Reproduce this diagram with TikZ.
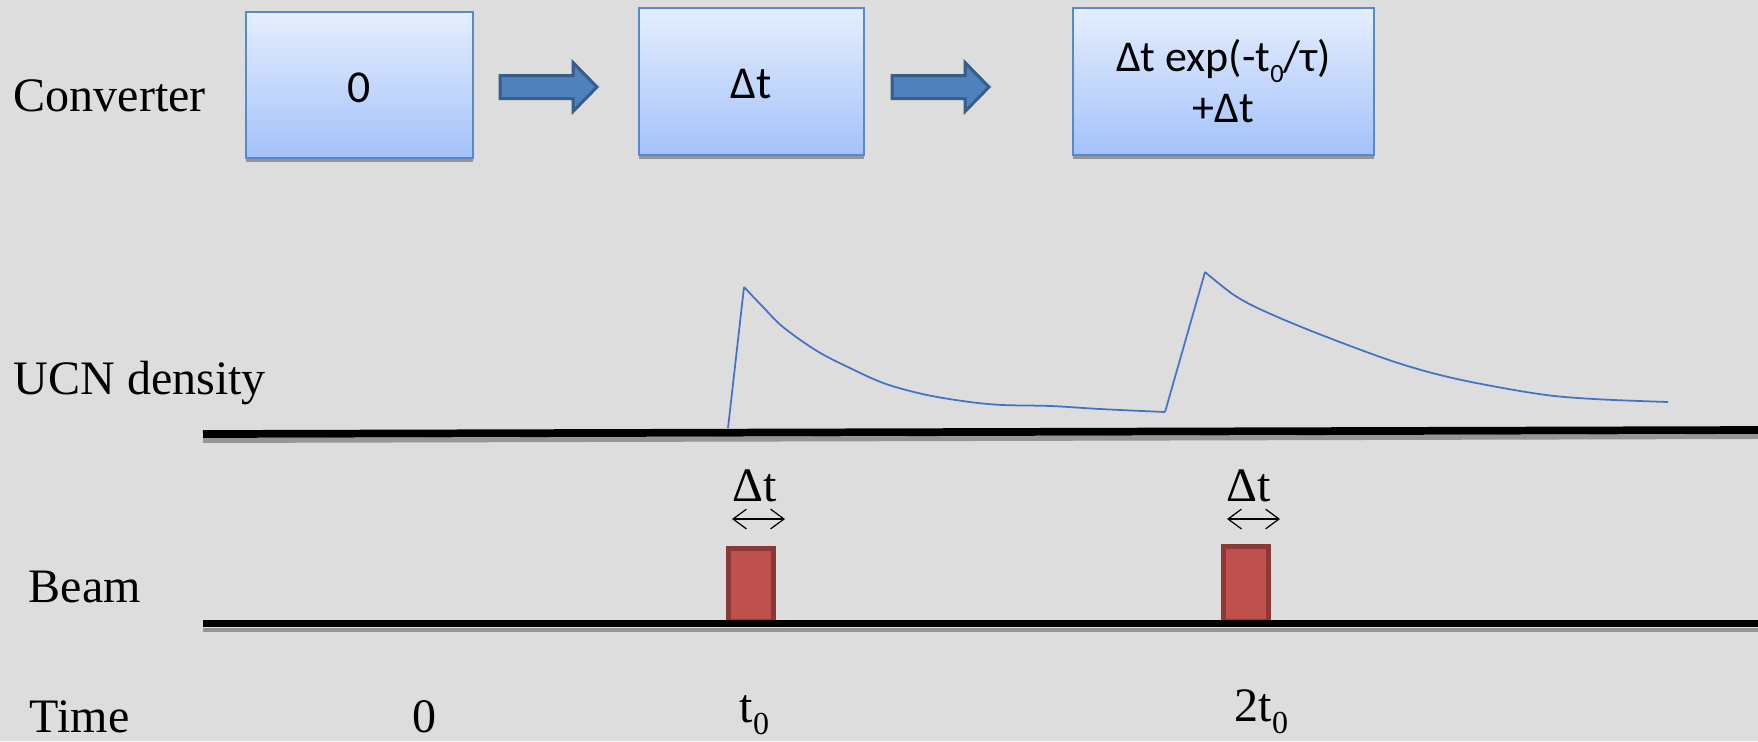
\documentclass[tikz,border=0pt]{standalone}
\usepackage{fontspec}
\setmainfont{Liberation Serif}
\newfontfamily\calfont{Carlito}
\usetikzlibrary{arrows.meta}
\definecolor{bg}{RGB}{221,221,221}
\definecolor{boxtop}{RGB}{229,238,253}
\definecolor{boxbot}{RGB}{163,194,250}
\definecolor{boxline}{RGB}{88,137,205}
\definecolor{arrfill}{RGB}{79,129,189}
\definecolor{arrline}{RGB}{56,93,138}
\definecolor{beamfill}{RGB}{192,80,77}
\definecolor{beamline}{RGB}{140,56,54}
\definecolor{curvecol}{RGB}{68,114,196}
\definecolor{shadowcol}{RGB}{150,150,150}
\begin{document}
\begin{tikzpicture}[x=0.01cm,y=-0.01cm,
  lbl/.style={font=\fontsize{13.66}{16}\selectfont, inner sep=0pt, anchor=base west},
  lblc/.style={font=\fontsize{13.66}{16}\selectfont, inner sep=0pt, anchor=base},
  boxtxt/.style={font=\calfont\fontsize{12.5}{14.5}\selectfont, inner sep=0pt, anchor=base},
  convbox/.style={draw=boxline, line width=0.45pt, top color=boxtop, bottom color=boxbot, inner sep=0pt},
  boxshadow/.style={fill=shadowcol},
  blockarrow/.style={fill=arrfill, draw=arrline, line width=0.85pt, line join=miter},
  axisline/.style={line width=2.2pt, black},
  axisshadow/.style={line width=1.4pt, shadowcol},
  beamrect/.style={fill=beamfill, draw=beamline, line width=1.4pt, inner sep=0pt},
  dblarrow/.style={line width=0.35pt, {Straight Barb[length=3.8pt,width=5.6pt]}-{Straight Barb[length=3.8pt,width=5.6pt]}},
  ucn/.style={curvecol, line width=0.5pt, line join=round}
]
\useasboundingbox (0,0) rectangle (1758,741);
\fill[bg] (0,0) rectangle (1758,741);

% ---- converter row ----
\node[lbl] (conv) at (13,111) {Converter};

\fill[boxshadow] (246,158) rectangle (473,162);
\fill[boxshadow] (639,155) rectangle (864,159);
\fill[boxshadow] (1073,155) rectangle (1374,159);

\node[convbox, minimum width=2.27cm, minimum height=1.46cm] (b1) at (359.5,85) {};
\node[convbox, minimum width=2.25cm, minimum height=1.47cm] (b2) at (751.5,81.5) {};
\node[convbox, minimum width=3.01cm, minimum height=1.47cm] (b3) at (1223.5,81.5) {};

\node[boxtxt, font=\calfont\fontsize{13}{15}\selectfont] (b1t) at (359.5,102) {0};
\node[boxtxt, font=\calfont\fontsize{13}{15}\selectfont] (b2t) at (751.5,98) {Δt};
\node[boxtxt] (b3t1) at (1223.5,71) {Δt exp(-t\raisebox{-0.11cm}{\fontsize{7.5}{8}\selectfont 0}/τ)};
\node[boxtxt] (b3t2) at (1223.5,122) {+Δt};

\coordinate (a1) at (500,87);
\coordinate (a2) at (892,87);
\foreach \a in {a1,a2}{
  \draw[blockarrow] (\a) ++(0,-11.5) -- ++(73,0) -- ++(0,-13) -- ++(24,24.5)
     -- ++(-24,24.5) -- ++(0,-13) -- ++(-73,0) -- cycle;
}

% ---- UCN density row ----
\node[lbl] (ucnl) at (13,394) {UCN density};
\coordinate (uL) at (203,434);
\coordinate (uR) at (1758,430);
\draw[axisshadow] ([yshift=-0.065cm]uL) -- ([yshift=-0.065cm]uR);
\draw[axisline] (uL) -- (uR);

\draw[ucn] (728,428) -- (744,287)
  plot[smooth, tension=0.55] coordinates {(744,287) (763,307) (783,327) (817,351) (852,369) (886,384) (927,395) (970,402) (1003,405) (1051,406) (1100,409) (1165,412)};
\draw[ucn] (1165,412) -- (1205,272)
  plot[smooth, tension=0.55] coordinates {(1205,272) (1234,295) (1264,311) (1319,334) (1395,362) (1457,379) (1539,394) (1594,399) (1668,402)};

% ---- Beam row ----
\node[lbl] (beaml) at (28,602) {Beam};
\node[lblc] (dt1) at (755,501) {Δt};
\node[lblc] (dt2) at (1249,501) {Δt};
\coordinate (d1l) at (732,519);
\coordinate (d1r) at (785,519);
\coordinate (d2l) at (1227,519);
\coordinate (d2r) at (1280,519);
\draw[dblarrow] (d1l) -- (d1r);
\draw[dblarrow] (d2l) -- (d2r);

\node[beamrect, minimum width=0.45cm, minimum height=0.725cm] (p1) at (751,584.75) {};
\node[beamrect, minimum width=0.45cm, minimum height=0.745cm] (p2) at (1246,583.75) {};

\coordinate (bL) at (203,623.5);
\coordinate (bR) at (1758,623.5);
\draw[axisshadow] ([yshift=-0.065cm]bL) -- ([yshift=-0.065cm]bR);
\draw[axisline] (bL) -- (bR);

% ---- Time row ----
\node[lbl] (timel) at (29,732) {Time};
\node[lblc] (t0l) at (425,732) {0};
\node[lbl] (t1l) at (739,722) {t\raisebox{-0.12cm}{\fontsize{9.1}{10}\selectfont 0}};
\node[lbl] (t2l) at (1234,721) {2t\raisebox{-0.12cm}{\fontsize{9.1}{10}\selectfont 0}};
\end{tikzpicture}
\end{document}
